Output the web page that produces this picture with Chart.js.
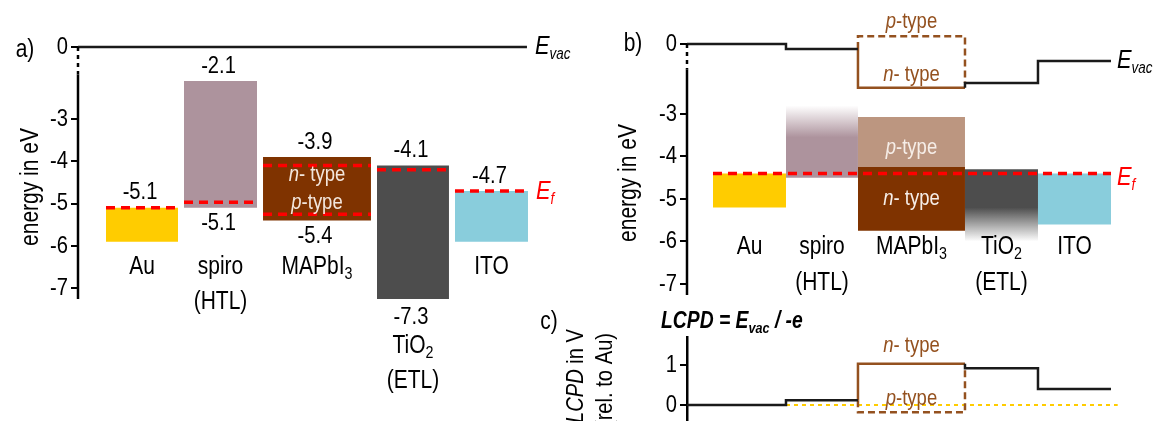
<!DOCTYPE html>
<html>
<head>
<meta charset="utf-8">
<script src="https://cdn.jsdelivr.net/npm/chart.js@4.4.1/dist/chart.umd.min.js"></script>
<style>
  html, body { margin: 0; padding: 0; background: #fff; }
  #wrap { position: relative; width: 1156px; height: 421px; overflow: hidden; }
  #wrap canvas { position: absolute; left: 0; top: 0; }
</style>
</head>
<body>
<div id="wrap">
  <canvas id="chartA" width="1156" height="421"></canvas>
  <canvas id="chartB" width="1156" height="421"></canvas>
  <canvas id="chartC" width="1156" height="421"></canvas>
</div>
<script>
// layers from left to right
const layers = ['Au', 'spiro', 'MAPbI_3', 'TiO_2', 'ITO'];
const layerNotes = ['', '(HTL)', '', '(ETL)', ''];

// a) separate materials, literature values in eV
const aTop = [-5.1, -2.1, -3.9, -4.1, -4.7];
const aBottom = [-5.9, -5.1, -5.4, -7.3, -5.9];
const aTopLabels = ['-5.1', '-2.1', '-3.9', '-4.1', '-4.7'];
const aBottomLabels = ['', '-5.1', '-5.4', '-7.3', ''];
const aFermi = [[-5.1], [-4.97], [-4.1, -5.25], [-4.2], [-4.7]];
const aLeft = [0.359, 1.359, 2.372, 3.833, 4.833];
const aRight = [1.282, 2.295, 3.756, 4.756, 5.769];
const aEvacEnd = 5.756;
const aTicks = [0, -3, -4, -5, -6, -7];

// b) in contact, common Fermi level
const bTop = [-4.4, -2.8, -3.07, -4.3, -4.4];
const bBottom = [-5.2, -4.5, -5.75, -6.0, -5.6];
const bMapSplit = -4.25;
const bFermi = -4.4;
const bEdges = [0.356, 1.356, 2.342, 3.808, 4.808, 5.808];
const evacN = [0, -0.12, -1.03, -0.92, -0.40];   // MAPbI3 as n-type
const evacP = 0.18;                               // MAPbI3 as p-type
const bTicks = [0, -3, -4, -5, -6, -7];

// c) LCPD = Evac / -e
const cTicks = [0, 1];
const cZeroEnd = 5.9;

// narrow face if the machine has it, else squeeze the regular one
const NARROW = "'Liberation Sans Narrow'";
const hasNarrow = (function () {
    const c = document.createElement('canvas').getContext('2d');
    c.font = '40px monospace';
    const w = c.measureText('energy in eV').width;
    c.font = '40px ' + NARROW + ', monospace';
    return Math.abs(c.measureText('energy in eV').width - w) > 0.5;
})();
const FONT = (hasNarrow ? NARROW + ', ' : '') + "'Liberation Sans', Arial, sans-serif";
const SQUEEZE = hasNarrow ? 1 : 0.84;

const RED = '#ff0000';
const BROWN = '#94511f';
const colors = ['#ffcc00', '#ad939d', '#7f3300', '#4d4d4d', '#89cddc'];
const mapLight = '#bc9680';

// axis break: Evac 0 is drawn higher than its true position
const SHIFT_A = -1.298;
const SHIFT_B = -1.353;
const BREAK = -1.95;

Chart.defaults.font.family = FONT;
Chart.defaults.color = '#000';

function box(x0, x1, top, bottom, color) {
    return {
        data: [{ x: x0, y: top }, { x: x1, y: top }],
        fill: { value: bottom },
        backgroundColor: color,
        borderWidth: 0,
        pointRadius: 0,
        order: 5
    };
}

function path(points, color, width, dash, order) {
    return {
        data: points.map(p => ({ x: p[0], y: p[1] })),
        borderColor: color,
        borderWidth: width,
        borderDash: dash || [],
        fill: false,
        pointRadius: 0,
        order: order
    };
}

function steps(xs, levels) {
    const pts = [];
    levels.forEach((lv, i) => { pts.push([xs[i], lv]); pts.push([xs[i + 1], lv]); });
    return pts;
}

function fade(v0, v1, c0, c1) {
    return function (ctx) {
        const chart = ctx.chart;
        if (!chart.chartArea) return c1;
        const y = chart.scales.y;
        const g = chart.ctx.createLinearGradient(0, y.getPixelForValue(v0), 0, y.getPixelForValue(v1));
        g.addColorStop(0, c0);
        g.addColorStop(1, c1);
        return g;
    };
}

// y ticks are drawn by the scale callbacks so they can share the squeezed font
function yScale(min, max, ticks, shift, width) {
    return {
        type: 'linear', min: min, max: max,
        afterBuildTicks: s => { s.ticks = ticks.map(v => ({ value: v === 0 ? shift : v })); },
        afterFit: s => { s.width = width; s.paddingTop = 0; s.paddingBottom = 0; },
        ticks: {
            autoSkip: false, color: hasNarrow ? '#000' : 'rgba(0,0,0,0)', font: { size: 24 }, padding: 3,
            callback: v => (Math.abs(v - shift) < 1e-6 ? '0' : String(v))
        },
        grid: { drawOnChartArea: false, drawTicks: true, tickLength: 7, color: '#000', lineWidth: 2 },
        border: { display: false }
    };
}

function squeezedTicks(chart) {
    if (hasNarrow) return;
    const y = chart.scales.y;
    y.ticks.forEach((t, i) => {
        rich(chart.ctx, [[y._tickLabels ? y._tickLabels[i] : t.label]], chart.chartArea.left - 10,
            y.getPixelForValue(t.value), 'right', 24);
    });
}

function baseOptions(pad, xMax, yOpts) {
    return {
        responsive: false, animation: false, devicePixelRatio: 1,
        layout: { padding: pad },
        plugins: { legend: { display: false }, tooltip: { enabled: false } },
        scales: { x: { type: 'linear', min: 0, max: xMax, display: false }, y: yOpts }
    };
}

// text with italic / bold / subscript pieces: [text, 'ibs']
function rich(ctx, parts, x, y, align, size, color, subRatio) {
    const sr = subRatio || 0.66;
    let w = 0;
    const segs = parts.map(p => {
        const st = p[1] || '';
        const fs = st.includes('s') ? Math.round(size * sr) : size;
        const font = (st.includes('i') ? 'italic ' : '') + (st.includes('b') ? 'bold ' : '') + fs + 'px ' + FONT;
        ctx.font = font;
        const mw = ctx.measureText(p[0]).width * SQUEEZE;
        w += mw;
        return { t: p[0], font: font, mw: mw, dy: st.includes('s') ? size * 0.3 : 0 };
    });
    let cx = align === 'center' ? x - w / 2 : align === 'right' ? x - w : x;
    ctx.save();
    ctx.fillStyle = color || '#000';
    ctx.textAlign = 'left';
    ctx.textBaseline = 'middle';
    segs.forEach(s => {
        ctx.font = s.font;
        ctx.save();
        ctx.translate(cx, y + s.dy);
        ctx.scale(SQUEEZE, 1);
        ctx.fillText(s.t, 0, 0);
        ctx.restore();
        cx += s.mw;
    });
    ctx.restore();
}

function nameParts(name) {
    const i = name.indexOf('_');
    return i < 0 ? [[name]] : [[name.slice(0, i)], [name.slice(i + 1), 's']];
}

function rotated(ctx, parts, x, y, size) {
    ctx.save();
    ctx.translate(x, y);
    ctx.rotate(-Math.PI / 2);
    rich(ctx, parts, 0, 0, 'center', size);
    ctx.restore();
}

function brokenAxis(ctx, x, yTop, yBreak, yBottom) {
    ctx.save();
    ctx.strokeStyle = '#000';
    ctx.lineWidth = 2.5;
    ctx.setLineDash([4, 4]);
    ctx.beginPath(); ctx.moveTo(x, yTop); ctx.lineTo(x, yBreak); ctx.stroke();
    ctx.setLineDash([]);
    ctx.beginPath(); ctx.moveTo(x, yBreak); ctx.lineTo(x, yBottom); ctx.stroke();
    ctx.restore();
}

// ---------- panel a ----------
const aDatasets = [];
layers.forEach((n, i) => {
    aDatasets.push(box(aLeft[i], aRight[i], aTop[i], aBottom[i], colors[i]));
    aFermi[i].forEach(f => aDatasets.push(path([[aLeft[i], f], [aRight[i], f]], RED, 3.5, [9, 6], 1)));
});
aDatasets.push(path([[0, SHIFT_A], [aEvacEnd, SHIFT_A]], '#1a1a1a', 2.5, [], 0));

const annotateA = {
    id: 'annotateA',
    afterDraw(chart) {
        const { ctx, scales: { x, y }, chartArea } = chart;
        brokenAxis(ctx, chartArea.left, y.getPixelForValue(SHIFT_A), y.getPixelForValue(BREAK), chartArea.bottom);
        squeezedTicks(chart);
        rich(ctx, [['a)']], 25, 50, 'center', 25);
        rotated(ctx, [['energy in eV']], 31, 187, 25);
        const rowY = y.getPixelForValue(-6.5);
        layers.forEach((n, i) => {
            const xc = (x.getPixelForValue(aLeft[i]) + x.getPixelForValue(aRight[i])) / 2;
            rich(ctx, [[aTopLabels[i]]], xc - 2, y.getPixelForValue(aTop[i]) - 15, 'center', 24);
            let ny = rowY;
            if (aBottomLabels[i]) {
                const by = y.getPixelForValue(aBottom[i]) + 16;
                rich(ctx, [[aBottomLabels[i]]], xc - 2, by, 'center', 24);
                ny = Math.max(rowY, by + 29);
            }
            rich(ctx, nameParts(n), xc, ny, 'center', 25);
            if (layerNotes[i]) rich(ctx, [[layerNotes[i]]], xc, ny + 35, 'center', 25);
        });
        const mx = (x.getPixelForValue(aLeft[2]) + x.getPixelForValue(aRight[2])) / 2;
        const mid = (aTop[2] + aBottom[2]) / 2;
        rich(ctx, [['n', 'i'], ['- type']], mx, y.getPixelForValue(mid + 0.33), 'center', 22, '#f3e6dc');
        rich(ctx, [['p', 'i'], ['-type']], mx, y.getPixelForValue(mid - 0.33), 'center', 22, '#f3e6dc');
        const ex = x.getPixelForValue(aEvacEnd) + 8;
        rich(ctx, [['E', 'i'], ['vac', 'is']], ex, y.getPixelForValue(SHIFT_A), 'left', 26, '#000', 0.62);
        rich(ctx, [['E', 'i'], ['f', 'is']], ex + 1, y.getPixelForValue(aFermi[4][0]) + 1, 'left', 26, RED, 0.62);
    }
};

new Chart(document.getElementById('chartA'), {
    type: 'line',
    data: { datasets: aDatasets },
    options: baseOptions({ left: 18, right: 626, top: 30, bottom: 122 }, (530 - 78) / 78,
        yScale(-7.255, -0.896, aTicks, SHIFT_A, 60)),
    plugins: [annotateA]
});

// ---------- panel b ----------
const bDatasets = [];
const rgbSpiro = '173,147,157';
bDatasets.push(box(bEdges[0], bEdges[1], bTop[0], bBottom[0], colors[0]));
bDatasets.push(box(bEdges[1], bEdges[2], bTop[1], bBottom[1],
    fade(bTop[1], bTop[1] - 0.75, 'rgba(' + rgbSpiro + ',0)', 'rgba(' + rgbSpiro + ',1)')));
bDatasets.push(box(bEdges[2], bEdges[3], bTop[2], bMapSplit, mapLight));
bDatasets.push(box(bEdges[2], bEdges[3], bMapSplit, bBottom[2], colors[2]));
bDatasets.push(box(bEdges[3], bEdges[4], bTop[3], bBottom[3],
    fade(-5.2, bBottom[3], 'rgba(77,77,77,1)', 'rgba(77,77,77,0)')));
bDatasets.push(box(bEdges[4], bEdges[5], bTop[4], bBottom[4], colors[4]));
bDatasets.push(path([[bEdges[0], bFermi], [bEdges[5], bFermi]], RED, 3.5, [9, 6], 1));

const sh = v => v + SHIFT_B;
const evBlack1 = steps([0, bEdges[1], bEdges[2]], [evacN[0], evacN[1]]);
const evBrownN = [[bEdges[2], evacN[1]], [bEdges[2], evacN[2]], [bEdges[3], evacN[2]]];
const evBrownP = [[bEdges[2], evacN[1]], [bEdges[2], evacP], [bEdges[3], evacP], [bEdges[3], evacN[3]]];
const evBlack2 = [[bEdges[3], evacN[2]]].concat(steps([bEdges[3], bEdges[4], bEdges[5]], [evacN[3], evacN[4]]));

bDatasets.push(path(evBlack1.map(p => [p[0], sh(p[1])]), '#1a1a1a', 2.5, [], 0));
bDatasets.push(path(evBlack2.map(p => [p[0], sh(p[1])]), '#1a1a1a', 2.5, [], 0));
bDatasets.push(path(evBrownN.map(p => [p[0], sh(p[1])]), BROWN, 2.5, [], 0));
bDatasets.push(path(evBrownP.map(p => [p[0], sh(p[1])]), BROWN, 2.5, [7, 4], 0));

const annotateB = {
    id: 'annotateB',
    afterDraw(chart) {
        const { ctx, scales: { x, y }, chartArea } = chart;
        brokenAxis(ctx, chartArea.left, y.getPixelForValue(SHIFT_B), y.getPixelForValue(BREAK), chartArea.bottom);
        squeezedTicks(chart);
        rich(ctx, [['b)']], 633, 44, 'center', 25);
        rotated(ctx, [['energy in eV']], 629, 183, 25);
        const rowY = y.getPixelForValue(-6.13);
        layers.forEach((n, i) => {
            const xc = (x.getPixelForValue(bEdges[i]) + x.getPixelForValue(bEdges[i + 1])) / 2;
            rich(ctx, nameParts(n), xc, rowY, 'center', 25);
            if (layerNotes[i]) rich(ctx, [[layerNotes[i]]], xc, rowY + 36, 'center', 25);
        });
        const mx = (x.getPixelForValue(bEdges[2]) + x.getPixelForValue(bEdges[3])) / 2;
        rich(ctx, [['p', 'i'], ['-type']], mx, y.getPixelForValue(sh(evacP)) - 14, 'center', 22, BROWN);
        rich(ctx, [['n', 'i'], ['- type']], mx, y.getPixelForValue(sh(evacN[2])) - 13, 'center', 22, BROWN);
        rich(ctx, [['p', 'i'], ['-type']], mx, y.getPixelForValue((bTop[2] + bMapSplit) / 2) + 6, 'center', 22, '#f6eee8');
        rich(ctx, [['n', 'i'], ['- type']], mx, y.getPixelForValue((bMapSplit + bBottom[2]) / 2), 'center', 22, '#f6eee8');
        const ex = x.getPixelForValue(bEdges[5]) + 6;
        rich(ctx, [['E', 'i'], ['vac', 'is']], ex, y.getPixelForValue(sh(evacN[4])), 'left', 26, '#000', 0.62);
        rich(ctx, [['E', 'i'], ['f', 'is']], ex, y.getPixelForValue(bFermi) + 4, 'left', 26, RED, 0.62);
    }
};

new Chart(document.getElementById('chartB'), {
    type: 'line',
    data: { datasets: bDatasets },
    options: baseOptions({ left: 627, right: 41, top: 14, bottom: 126 }, (1115 - 687) / 73,
        yScale(-7.259, -0.647, bTicks, SHIFT_B, 60)),
    plugins: [annotateB]
});

// ---------- panel c ----------
const neg = pts => pts.map(p => [p[0], -p[1]]);
const cDatasets = [
    path([[bEdges[1], 0], [cZeroEnd, 0]], '#ffcc00', 2, [4, 4], 3),
    path(neg(evBlack1), '#1a1a1a', 2.5, [], 0),
    path(neg(evBlack2), '#1a1a1a', 2.5, [], 0),
    path(neg(evBrownN), BROWN, 2.5, [], 0),
    path(neg(evBrownP), BROWN, 2.5, [7, 4], 1)
];

const cY = yScale(-0.4, 1.7, cTicks, 0, 60);
cY.border = { display: true, color: '#000', width: 2.5 };

const annotateC = {
    id: 'annotateC',
    afterDraw(chart) {
        const { ctx, scales: { x, y } } = chart;
        squeezedTicks(chart);
        rich(ctx, [['c)']], 549, 322, 'center', 25);
        rich(ctx, [['LCPD = E', 'bi'], ['vac', 'bis'], [' / -e', 'bi']], 661, 322, 'left', 23);
        rotated(ctx, [['LCPD', 'i'], [' in V']], 576, 376, 24);
        rotated(ctx, [['(rel. to Au)']], 605, 380, 24);
        const mx = (x.getPixelForValue(bEdges[2]) + x.getPixelForValue(bEdges[3])) / 2;
        rich(ctx, [['n', 'i'], ['- type']], mx, y.getPixelForValue(-evacN[2]) - 18, 'center', 22, BROWN);
        rich(ctx, [['p', 'i'], ['-type']], mx, y.getPixelForValue(0) - 6, 'center', 22, BROWN);
    }
};

new Chart(document.getElementById('chartC'), {
    type: 'line',
    data: { datasets: cDatasets },
    options: baseOptions({ left: 627, right: 35, top: 337, bottom: 0 }, (1121 - 687) / 73, cY),
    plugins: [annotateC]
});
</script>
</body>
</html>
